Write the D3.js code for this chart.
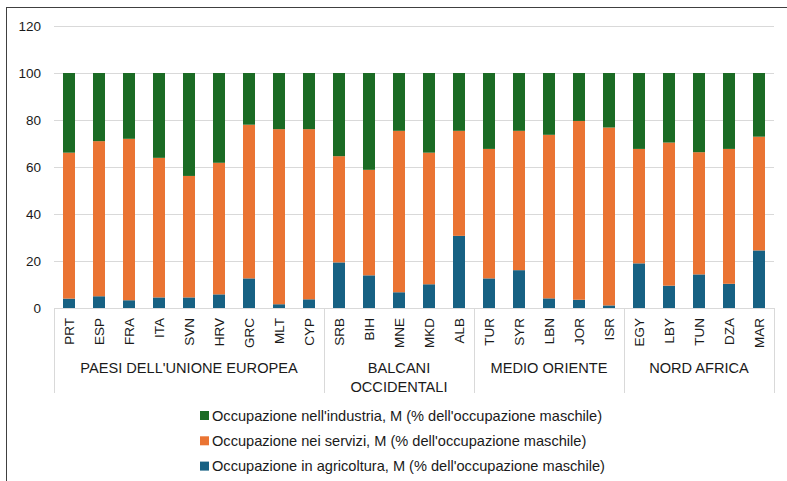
<!DOCTYPE html>
<html>
<head>
<meta charset="utf-8">
<script src="https://cdn.jsdelivr.net/npm/d3@7"></script>
<style>
  body { margin: 0; background: #fff; }
  svg { font-family: "Liberation Sans", Arial, sans-serif; }
</style>
</head>
<body>
<div id="chart"></div>
<script>
// data
var countries = ['PRT','ESP','FRA','ITA','SVN','HRV','GRC','MLT','CYP',
                 'SRB','BIH','MNE','MKD','ALB',
                 'TUR','SYR','LBN','JOR','ISR',
                 'EGY','LBY','TUN','DZA','MAR'];
var agricoltura = [4.0,5.0,3.3,4.5,4.5,5.8,12.6,1.6,3.7,
                   19.4,13.9,6.7,10.1,30.7,
                   12.6,16.1,4.1,3.5,1.1,
                   19.0,9.5,14.3,10.3,24.5];
var servizi = [62.1,66.0,68.7,59.4,51.7,56.0,65.4,74.5,72.4,
               45.2,44.9,68.7,56.0,44.7,
               55.1,59.3,69.6,76.1,75.7,
               48.7,60.9,52.0,57.4,48.4];
var industria = [33.9,29.0,28.0,36.1,43.8,38.2,22.0,23.9,23.9,
                 35.4,41.2,24.6,33.9,24.6,
                 32.3,24.6,26.3,20.4,23.2,
                 32.3,29.6,33.7,32.3,27.1];
var groups = [
    {name: ['PAESI DELL\'UNIONE EUROPEA'], size: 9},
    {name: ['BALCANI', 'OCCIDENTALI'], size: 5},
    {name: ['MEDIO ORIENTE'], size: 5},
    {name: ['NORD AFRICA'], size: 5}
];
var yTicks = [0, 20, 40, 60, 80, 100, 120];
var seriesLabels = {
    industria: 'Occupazione nell\'industria, M (% dell\'occupazione maschile)',
    servizi: 'Occupazione nei servizi, M (% dell\'occupazione maschile)',
    agricoltura: 'Occupazione in agricoltura, M (% dell\'occupazione maschile)'
};
var colors = {agricoltura: '#176183', servizi: '#ea7433', industria: '#1b6b24'};

var width = 787, height = 481;
var svg = d3.select('#chart').append('svg')
    .attr('width', width)
    .attr('height', height);

// frame
svg.append('rect')
    .attr('x', 6.5).attr('y', 7.5)
    .attr('width', 820).attr('height', 520)
    .attr('fill', 'none')
    .attr('stroke', '#404040')
    .attr('stroke-width', 1);

var plot = {left: 54, right: 774, top: 26, bottom: 308};

var table = countries.map(function(c, i) {
    return {country: c, agricoltura: agricoltura[i], servizi: servizi[i], industria: industria[i]};
});

var series = d3.stack()
    .keys(['agricoltura', 'servizi', 'industria'])(table);

var x = d3.scaleBand()
    .domain(countries)
    .range([plot.left, plot.right])
    .paddingInner(0.6)
    .paddingOuter(0.3);

var y = d3.scaleLinear()
    .domain([0, 120])
    .range([plot.bottom, plot.top]);

// gridlines
svg.append('g')
    .selectAll('line')
    .data(yTicks.filter(function(d) { return d > 0; }))
    .enter().append('line')
    .attr('x1', plot.left).attr('x2', plot.right)
    .attr('y1', function(d) { return Math.round(y(d)) + 0.5; })
    .attr('y2', function(d) { return Math.round(y(d)) + 0.5; })
    .attr('stroke', '#d9d9d9');

// y axis labels
var yAxis = svg.append('g')
    .attr('transform', 'translate(' + (plot.left - 13) + ',0)')
    .call(d3.axisLeft(y).tickValues(yTicks).tickSize(0).tickPadding(0));
yAxis.select('.domain').remove();
yAxis.selectAll('text')
    .attr('font-size', 13.5)
    .attr('font-family', '"Liberation Sans", Arial, sans-serif')
    .attr('fill', '#1a1a1a');

// bars
svg.append('g')
    .selectAll('g')
    .data(series)
    .enter().append('g')
    .attr('fill', function(d) { return colors[d.key]; })
    .selectAll('rect')
    .data(function(d) { return d; })
    .enter().append('rect')
    .attr('x', function(d) { return x(d.data.country); })
    .attr('width', x.bandwidth())
    .attr('y', function(d) { return y(d[1]); })
    .attr('height', function(d) { return y(d[0]) - y(d[1]); });

// category axis line
svg.append('line')
    .attr('x1', plot.left).attr('x2', plot.right)
    .attr('y1', plot.bottom + 0.5).attr('y2', plot.bottom + 0.5)
    .attr('stroke', '#d9d9d9');

// country labels
svg.append('g')
    .selectAll('text')
    .data(countries)
    .enter().append('text')
    .attr('transform', function(d) {
        return 'translate(' + (x(d) + x.bandwidth() / 2) + ',' + (plot.bottom + 10) + ') rotate(-90)';
    })
    .attr('text-anchor', 'end')
    .attr('dy', '0.35em')
    .attr('font-size', 13.5)
    .attr('fill', '#1a1a1a')
    .text(function(d) { return d; });

// group separators and labels
var step = x.step();
var start = 0;
var sep = svg.append('g');
groups.forEach(function(g, gi) {
    var x0 = plot.left + start * step, x1 = plot.left + (start + g.size) * step;
    if (gi === 0) {
        sep.append('line')
            .attr('x1', x0 + 0.5).attr('x2', x0 + 0.5)
            .attr('y1', plot.bottom).attr('y2', 393)
            .attr('stroke', '#d9d9d9');
    }
    sep.append('line')
        .attr('x1', x1 + 0.5).attr('x2', x1 + 0.5)
        .attr('y1', plot.bottom).attr('y2', 393)
        .attr('stroke', '#d9d9d9');
    g.name.forEach(function(line, li) {
        sep.append('text')
            .attr('x', (x0 + x1) / 2)
            .attr('y', 368 + li * 19)
            .attr('dy', '0.35em')
            .attr('text-anchor', 'middle')
            .attr('font-size', 14.6)
            .attr('fill', '#1a1a1a')
            .text(line);
    });
    start += g.size;
});

// legend
var legendKeys = ['industria', 'servizi', 'agricoltura'];
var legend = svg.append('g')
    .selectAll('g')
    .data(legendKeys)
    .enter().append('g')
    .attr('transform', function(d, i) { return 'translate(200,' + (415.5 + i * 25.3) + ')'; });
legend.append('rect')
    .attr('x', 0).attr('y', -4.5)
    .attr('width', 9).attr('height', 9)
    .attr('fill', function(d) { return colors[d]; });
legend.append('text')
    .attr('x', 12)
    .attr('dy', '0.35em')
    .attr('font-size', 14.6)
    .attr('fill', '#1a1a1a')
    .text(function(d) { return seriesLabels[d]; });
</script>
</body>
</html>
